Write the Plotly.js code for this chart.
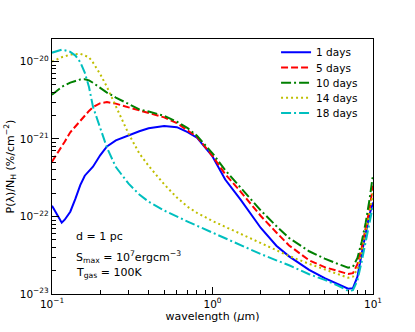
<!DOCTYPE html>
<html><head><meta charset="utf-8">
<script src="https://cdn.plot.ly/plotly-3.0.1.min.js"></script>
<style>html,body{margin:0;padding:0;background:#fff}#chart{width:415px;height:332px}</style>
</head><body><div id="chart"></div>
<script>
var wavelength = [0.1,0.11,0.115,0.12,0.13,0.14,0.15,0.16,0.17,0.18,
  0.2,0.22,0.25,0.3,0.35,0.4,0.5,0.6,0.7,0.8,
  1.0,1.2,1.5,2,2.5,3,4,5,6,6.5,
  7,7.5,8,8.5,9,9.5,10];
var seriesNames = ["1 days","5 days","10 days","14 days","18 days"];
var day1 = [1.38e-22,9.94e-23,8.32e-23,9.09e-23,1.153e-22,1.697e-22,2.535e-22,3.36e-22,3.85e-22,4.39e-22,
  6.20e-22,8.03e-22,9.59e-22,1.12e-21,1.26e-21,1.378e-21,1.471e-21,1.42e-21,1.224e-21,1.039e-21,
  5.95e-22,3.00e-22,1.637e-22,7.11e-23,4.20e-23,3.06e-23,2.05e-23,1.60e-23,1.358e-23,1.26e-23,
  1.17e-23,1.19e-23,1.67e-23,3.31e-23,6.0e-23,1.055e-22,1.51e-22];
var day5 = [5.09e-22,6.86e-22,7.95e-22,9.23e-22,1.22e-21,1.467e-21,1.738e-21,2.01e-21,2.30e-21,2.57e-21,
  2.90e-21,2.99e-21,2.86e-21,2.56e-21,2.33e-21,2.19e-21,1.90e-21,1.60e-21,1.30e-21,1.068e-21,
  6.03e-22,3.51e-22,2.08e-22,1.015e-22,6.22e-23,4.23e-23,2.72e-23,2.22e-23,1.99e-23,1.89e-23,
  1.81e-23,1.86e-23,2.42e-23,3.96e-23,6.96e-23,1.224e-22,2.50e-22];
var day10 = [3.73e-21,4.43e-21,4.70e-21,4.92e-21,5.34e-21,5.60e-21,5.86e-21,5.91e-21,5.70e-21,5.31e-21,
  4.56e-21,3.97e-21,3.42e-21,2.83e-21,2.41e-21,2.26e-21,1.99e-21,1.67e-21,1.38e-21,1.10e-21,
  6.54e-22,3.96e-22,2.35e-22,1.195e-22,7.52e-23,5.28e-23,3.56e-23,2.86e-23,2.46e-23,2.31e-23,
  2.18e-23,2.25e-23,2.92e-23,4.70e-23,8.27e-23,1.62e-22,3.46e-22];
var day14 = [9.94e-21,1.096e-20,1.136e-20,1.167e-20,1.227e-20,1.242e-20,1.257e-20,1.192e-20,1.133e-20,9.71e-21,
  6.84e-21,4.69e-21,2.64e-21,1.167e-21,6.52e-22,4.50e-22,2.60e-22,1.754e-22,1.334e-22,1.116e-22,
  8.75e-23,7.36e-23,5.93e-23,4.54e-23,3.69e-23,3.09e-23,2.45e-23,2.08e-23,1.82e-23,1.72e-23,
  1.62e-23,1.67e-23,2.12e-23,3.39e-23,6.00e-23,1.074e-22,2.03e-22];
var day18 = [1.299e-20,1.391e-20,1.420e-20,1.399e-20,1.330e-20,1.192e-20,9.79e-21,7.19e-21,4.69e-21,2.61e-21,
  1.358e-21,7.72e-22,4.34e-22,2.65e-22,1.92e-22,1.552e-22,1.195e-22,9.91e-23,8.60e-23,7.59e-23,
  6.16e-23,5.20e-23,4.21e-23,3.28e-23,2.72e-23,2.35e-23,1.80e-23,1.52e-23,1.29e-23,1.19e-23,
  1.10e-23,1.12e-23,1.50e-23,2.61e-23,4.66e-23,8.07e-23,1.38e-22];
var xTickVals = [0.1, 1, 10];
var xTickText = ["10<sup>\u22121</sup>","10<sup>0</sup>","10<sup>1</sup>"];
var yTickVals = [1e-23, 1e-22, 1e-21, 1e-20];
var yTickText = ["10<sup>\u221223</sup>","10<sup>\u221222</sup>","10<sup>\u221221</sup>","10<sup>\u221220</sup>"];
var annotationLines = ["d = 1 pc",
  "S<sub>max</sub> = 10<sup>7</sup>ergcm<sup>\u22123</sup>",
  "T<sub>gas</sub> = 100K"];

// minor tick positions (digits 2..9 of each decade)
var xMinor = [], yMinor = [];
[0.1, 1].forEach(function(d){ for (var k=2;k<=9;k++) xMinor.push(k*d); });
[1e-23, 1e-22, 1e-21].forEach(function(d){ for (var k=2;k<=9;k++) yMinor.push(k*d); });

var ys = [day1, day5, day10, day14, day18];
var colors = ["#0000ff","#ff0000","#008000","#bfbf00","#00bfbf"];
var dashes = ["solid","7px,3px","10px,3px,2px,3px","2px,3px","10px,3px,2px,3px"];
var traces = ys.map(function(y,i){
  return {x: wavelength, y: y, type:"scatter", mode:"lines", name: seriesNames[i],
    line:{color:colors[i], width:2, dash:dashes[i]}};
});
var F = "DejaVu Sans, sans-serif";
var layout = {
  width:415, height:332,
  margin:{l:52, r:42, t:39, b:38},
  paper_bgcolor:"#fff", plot_bgcolor:"#fff",
  font:{family:F, size:10, color:"#000"},
  showlegend:true,
  legend:{x:0.698, y:1.005, xanchor:"left", yanchor:"top", bgcolor:"rgba(0,0,0,0)",
    font:{family:F, size:10.5, color:"#000"}, borderwidth:0},
  xaxis:{type:"log", range:[-1,1], tickmode:"array", tickvals:xTickVals, ticktext:xTickText,
    ticks:"inside", ticklen:7, tickwidth:1, tickcolor:"#000",
    minor:{tickmode:"array", tickvals:xMinor, ticks:"inside", ticklen:4, tickwidth:1, tickcolor:"#000", showgrid:false},
    showline:true, linecolor:"#000", linewidth:1.3, mirror:true, showgrid:false, zeroline:false,
    tickfont:{family:F, size:10.5},
    title:{text:"wavelength (<i>\u03bc</i>m)", font:{family:F, size:11}, standoff:3}},
  yaxis:{type:"log", range:[-23,-19.71], tickmode:"array", tickvals:yTickVals, ticktext:yTickText,
    ticks:"inside", ticklen:7, tickwidth:1, tickcolor:"#000",
    minor:{tickmode:"array", tickvals:yMinor, ticks:"inside", ticklen:4, tickwidth:1, tickcolor:"#000", showgrid:false},
    showline:true, linecolor:"#000", linewidth:1.3, mirror:true, showgrid:false, zeroline:false,
    tickfont:{family:F, size:10.5},
    title:{text:"P(\u03bb)/N<sub>H</sub> (%/cm<sup>\u22122</sup>)", font:{family:F, size:11}, standoff:3}},
  annotations: annotationLines.map(function(t,i){
    return {text:t, xref:"paper", yref:"paper", x:0.07, y:[0.225,0.147,0.083][i],
      xanchor:"left", yanchor:"middle", showarrow:false, font:{family:F, size:11, color:"#000"}};
  })
};
Plotly.newPlot("chart", traces, layout, {displayModeBar:false, staticPlot:true}).then(function(gd){
  // tighten legend row spacing to match the reference
  var items = gd.querySelectorAll(".legend .traces");
  var y0 = null;
  items.forEach(function(g, i){
    var t = g.getAttribute("transform") || "";
    var m = /translate\(\s*([-\d.e]+)[ ,]+([-\d.e]+)\s*\)/.exec(t);
    if (!m) return;
    var x = parseFloat(m[1]), y = parseFloat(m[2]);
    if (y0 === null) y0 = y;
    g.setAttribute("transform", "translate(" + x + "," + (y0 + 15.2*i) + ")");
  });
});
</script></body></html>
